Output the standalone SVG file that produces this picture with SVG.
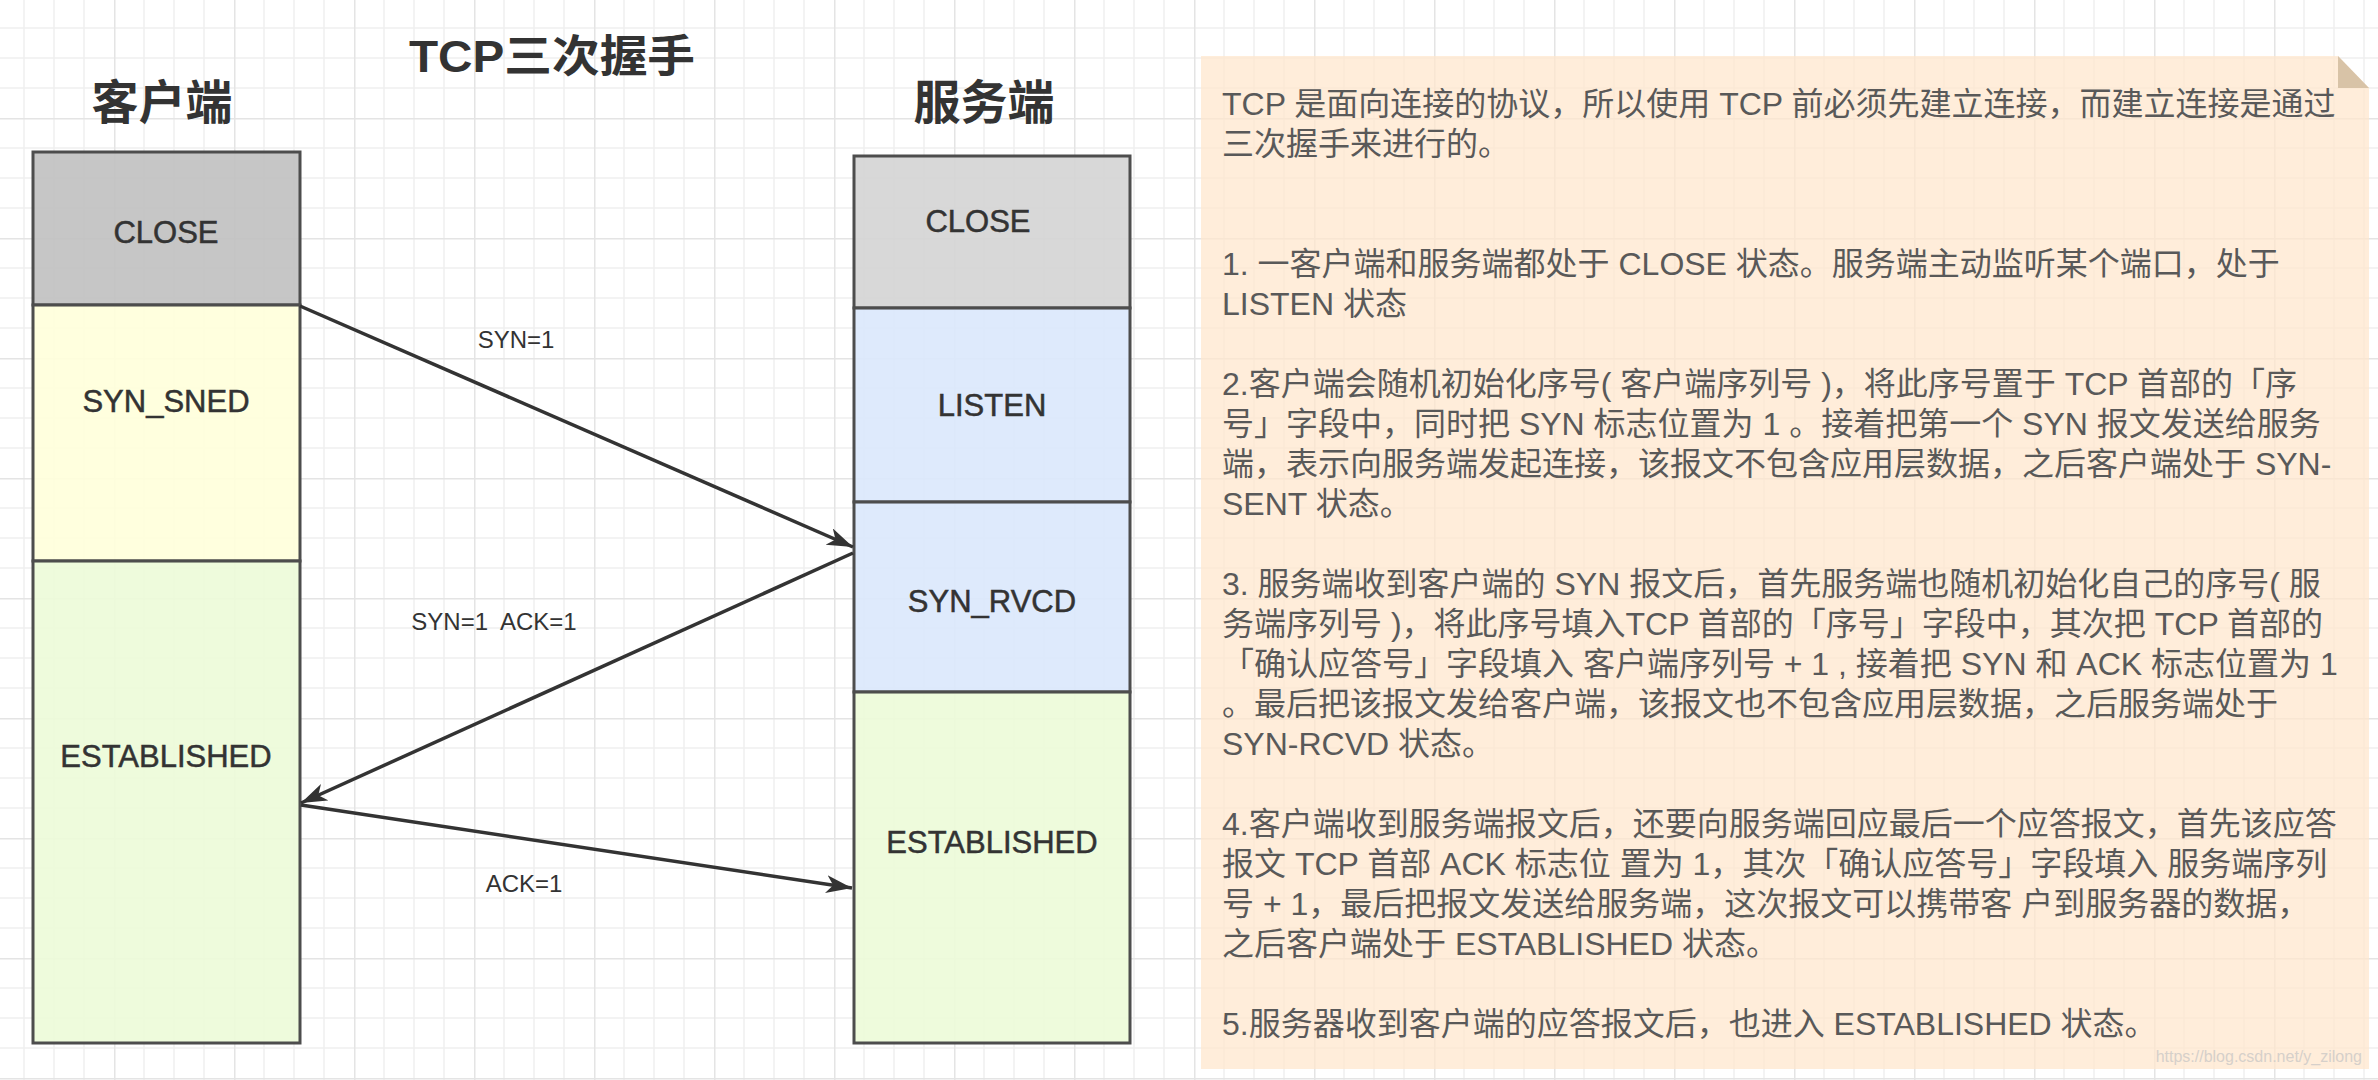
<svg xmlns="http://www.w3.org/2000/svg" width="2378" height="1080" viewBox="0 0 2378 1080">
<defs>
<pattern id="grid" patternUnits="userSpaceOnUse" x="114" y="118" width="120" height="120">
<rect x="0" y="0" width="120" height="120" fill="none"/>
<path d="M30 0V120M60 0V120M90 0V120M0 30H120M0 60H120M0 90H120" stroke="#EFEFEF" stroke-width="1.5" fill="none"/>
<path d="M0.5 0V120M0 0.5H120" stroke="#E4E4E4" stroke-width="2" fill="none"/>
</pattern>
<marker id="arrow" markerUnits="userSpaceOnUse" markerWidth="28" markerHeight="20" refX="26" refY="9" orient="auto">
<path d="M0,0 L26,9 L0,18 L7,9 Z" fill="#333333"/>
</marker>
</defs>
<style>
.box{stroke:#4D4D4D;stroke-width:3;fill-opacity:0.9}
.state{font-family:"Liberation Sans",Arial,sans-serif;font-size:31px;fill:#333333;stroke:#333333;stroke-width:0.5;text-anchor:middle}
.head{font-family:"Liberation Sans","Noto Sans CJK SC",sans-serif;font-weight:bold;fill:#333333;text-anchor:middle}
.lbl{font-family:"Liberation Sans",Arial,sans-serif;font-size:24px;fill:#333333;text-anchor:middle}
.conn{stroke:#333333;stroke-width:3.5;fill:none;marker-end:url(#arrow)}
.note{font-family:"Liberation Sans","Noto Sans CJK SC",sans-serif;font-size:32px;fill:#595959}
</style>
<rect x="0" y="0" width="2378" height="1080" fill="#FFFFFF"/>
<rect x="0" y="0" width="2378" height="1080" fill="url(#grid)"/>

<g id="title">
<text class="head" x="552" y="72" font-size="44" textLength="286" lengthAdjust="spacingAndGlyphs">TCP三次握手</text>
</g>
<g id="client-header"><text class="head" x="162" y="119" font-size="47">客户端</text></g>
<g id="server-header"><text class="head" x="984" y="119" font-size="47">服务端</text></g>

<g id="client-close">
<rect class="box" x="33" y="152" width="267" height="153" fill="#C0C0C0"/>
<text class="state" x="166" y="243">CLOSE</text>
</g>
<g id="client-syn-sned">
<rect class="box" x="33" y="305" width="267" height="256" fill="#FFFFDA"/>
<text class="state" x="166" y="412">SYN_SNED</text>
</g>
<g id="client-established">
<rect class="box" x="33" y="561" width="267" height="482" fill="#ECFBD8"/>
<text class="state" x="166" y="767">ESTABLISHED</text>
</g>

<g id="server-close">
<rect class="box" x="854" y="156" width="276" height="152" fill="#D4D4D4"/>
<text class="state" x="978" y="232">CLOSE</text>
</g>
<g id="server-listen">
<rect class="box" x="854" y="308" width="276" height="194" fill="#DAE8FC"/>
<text class="state" x="992" y="416">LISTEN</text>
</g>
<g id="server-syn-rvcd">
<rect class="box" x="854" y="502" width="276" height="190" fill="#DAE8FC"/>
<text class="state" x="992" y="612">SYN_RVCD</text>
</g>
<g id="server-established">
<rect class="box" x="854" y="692" width="276" height="351" fill="#ECFBD8"/>
<text class="state" x="992" y="853">ESTABLISHED</text>
</g>

<g id="connectors">
<line class="conn" x1="300" y1="306" x2="853" y2="547"/>
<text class="lbl" x="516" y="348">SYN=1</text>
<line class="conn" x1="853" y1="553" x2="301" y2="803"/>
<text class="lbl" x="494" y="630" xml:space="preserve">SYN=1  ACK=1</text>
<line class="conn" x1="301" y1="805" x2="852" y2="888"/>
<text class="lbl" x="524" y="892">ACK=1</text>
</g>

<g id="note">
<path d="M1201 56H2338L2369 88V1069H1201Z" fill="#FFE6CC" fill-opacity="0.72"/>
<path d="M2338 56L2369 88H2338Z" fill="#D8C3A7"/>
<text class="note" x="1222" y="115">TCP 是面向连接的协议，所以使用 TCP 前必须先建立连接，而建立连接是通过</text>
<text class="note" x="1222" y="155">三次握手来进行的。</text>
<text class="note" x="1222" y="275">1. 一客户端和服务端都处于 CLOSE 状态。服务端主动监听某个端口，处于</text>
<text class="note" x="1222" y="315">LISTEN 状态</text>
<text class="note" x="1222" y="395">2.客户端会随机初始化序号( 客户端序列号 )，将此序号置于 TCP 首部的「序</text>
<text class="note" x="1222" y="435">号」字段中，同时把 SYN 标志位置为 1 。接着把第一个 SYN 报文发送给服务</text>
<text class="note" x="1222" y="475">端，表示向服务端发起连接，该报文不包含应用层数据，之后客户端处于 SYN-</text>
<text class="note" x="1222" y="515">SENT 状态。</text>
<text class="note" x="1222" y="595">3. 服务端收到客户端的 SYN 报文后，首先服务端也随机初始化自己的序号( 服</text>
<text class="note" x="1222" y="635">务端序列号 )，将此序号填入TCP 首部的「序号」字段中，其次把 TCP 首部的</text>
<text class="note" x="1222" y="675">「确认应答号」字段填入 客户端序列号 + 1 , 接着把 SYN 和 ACK 标志位置为 1</text>
<text class="note" x="1222" y="715">。最后把该报文发给客户端，该报文也不包含应用层数据，之后服务端处于</text>
<text class="note" x="1222" y="755">SYN-RCVD 状态。</text>
<text class="note" x="1222" y="835">4.客户端收到服务端报文后，还要向服务端回应最后一个应答报文，首先该应答</text>
<text class="note" x="1222" y="875">报文 TCP 首部 ACK 标志位 置为 1，其次「确认应答号」字段填入 服务端序列</text>
<text class="note" x="1222" y="915">号 + 1，最后把报文发送给服务端，这次报文可以携带客 户到服务器的数据，</text>
<text class="note" x="1222" y="955">之后客户端处于 ESTABLISHED 状态。</text>
<text class="note" x="1222" y="1035">5.服务器收到客户端的应答报文后，也进入 ESTABLISHED 状态。</text>
<text x="2362" y="1062" font-family="Liberation Sans,sans-serif" font-size="16" fill="#D6D0CA" text-anchor="end">https://blog.csdn.net/y_zilong</text>
</g>
</svg>
